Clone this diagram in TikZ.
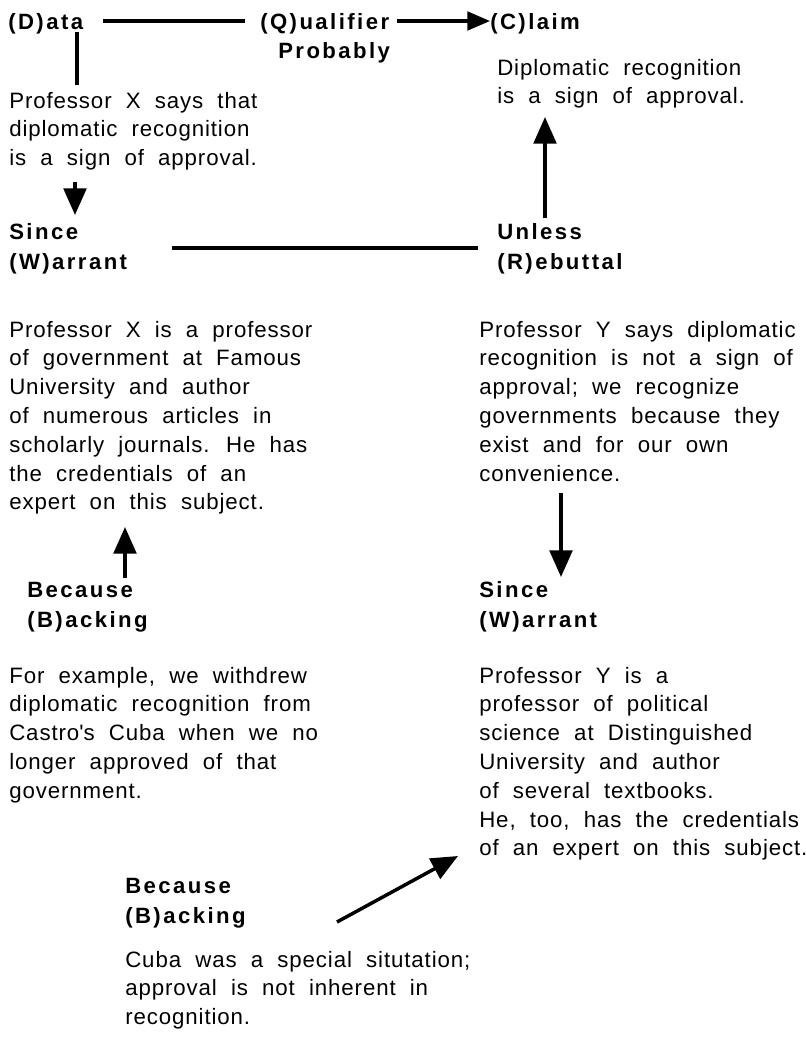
\documentclass[tikz,border=0pt]{standalone}
\usepackage{fontspec}
\setmainfont{Liberation Sans}[LetterSpace=4, WordSpace=2]
\newfontfamily\lblfont{Liberation Sans}[LetterSpace=11]
\usetikzlibrary{arrows.meta}
\newcommand{\blk}[1]{\begin{tabular}[t]{@{}l@{}}#1\end{tabular}}
\begin{document}
\begin{tikzpicture}[x=0.75pt,y=-0.75pt,
  txt/.style={anchor=base west, inner sep=0pt, font=\fontsize{16.7pt}{21.6pt}\selectfont},
  lbl/.style={anchor=base west, inner sep=0pt, font=\lblfont\bfseries\fontsize{16.6pt}{22.9pt}\selectfont},
  conn/.style={line width=2.3pt},
  arr/.style={line width=2.6pt, -{Triangle[width=17pt,length=20pt]}},
  smallarr/.style={line width=2.3pt, -{Triangle[width=14pt,length=17pt]}}]
\useasboundingbox (0,0) rectangle (806,1040);
% labels
\node[lbl] (D) at (8,29) {(D)ata};
\node[lbl] (Q) at (260,29) {(Q)ualifier};
\node[lbl] (P) at (278,58) {Probably};
\node[lbl] (C) at (490,29) {(C)laim};
\node[lbl] (W1) at (9,239) {\blk{Since\\(W)arrant}};
\node[lbl] (R) at (497,239) {\blk{Unless\\(R)ebuttal}};
\node[lbl] (B1) at (27,597) {\blk{Because\\(B)acking}};
\node[lbl] (W2) at (479,597) {\blk{Since\\(W)arrant}};
\node[lbl] (B2) at (125,893) {\blk{Because\\(B)acking}};
% texts
\node[txt] (Dt) at (9,108) {\blk{Professor X says that\\diplomatic recognition\\is a sign of approval.}};
\node[txt] (Ct) at (497,75) {\blk{Diplomatic recognition\\is a sign of approval.}};
\node[txt] (W1t) at (9,337) {\blk{Professor X is a professor\\of government at Famous\\University and author\\of numerous articles in\\scholarly journals. He has\\the credentials of an\\expert on this subject.}};
\node[txt] (Rt) at (479,337) {\blk{Professor Y says diplomatic\\recognition is not a sign of\\approval; we recognize\\governments because they\\exist and for our own\\convenience.}};
\node[txt] (B1t) at (9,683) {\blk{For example, we withdrew\\diplomatic recognition from\\Castro\textquotesingle s Cuba when we no\\longer approved of that\\government.}};
\node[txt] (W2t) at (479,683) {\blk{Professor Y is a\\professor of political\\science at Distinguished\\University and author\\of several textbooks.\\He, too, has the credentials\\of an expert on this subject.}};
\node[txt] (B2t) at (125,967) {\blk{Cuba was a special situtation;\\approval is not inherent in\\recognition.}};
% connector ends
\coordinate (dq1) at (103,21); \coordinate (dq2) at (245,21);
\coordinate (qc1) at (397,21); \coordinate (qc2) at (490,21);
\coordinate (dv1) at (77,32);  \coordinate (dv2) at (77,85);
\coordinate (dw1) at (75,182); \coordinate (dw2) at (75,215);
\coordinate (wr1) at (172,248); \coordinate (wr2) at (478,248);
\coordinate (rc1) at (545,218); \coordinate (rc2) at (545,117);
\coordinate (bw1) at (125,578); \coordinate (bw2) at (125,527);
\coordinate (rw1) at (561,493); \coordinate (rw2) at (561,577);
\coordinate (bb1) at (337,922); \coordinate (bb2) at (458,856);
% connectors
\draw[conn] (dq1) -- (dq2);
\draw[smallarr] (qc1) -- (qc2);
\draw[conn] (dv1) -- (dv2);
\draw[arr] (dw1) -- (dw2);
\draw[conn] (wr1) -- (wr2);
\draw[arr] (rc1) -- (rc2);
\draw[arr] (bw1) -- (bw2);
\draw[arr] (rw1) -- (rw2);
\draw[arr] (bb1) -- (bb2);
\end{tikzpicture}
\end{document}
